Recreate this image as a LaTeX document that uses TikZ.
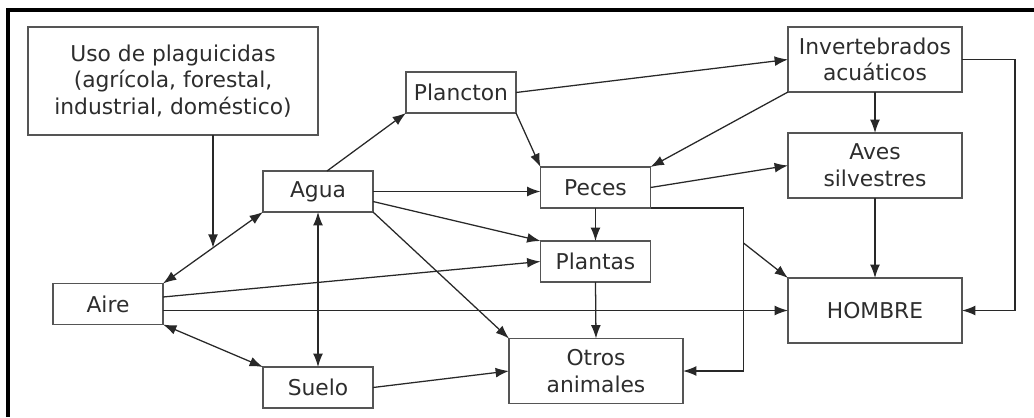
\documentclass[tikz,border=0pt]{standalone}
\usepackage{fontspec}
\setmainfont{DejaVu Sans}
\usepackage{xcolor}
\usepackage{tikz}
\usetikzlibrary{shapes,arrows,arrows.meta,positioning,calc,fit}
\definecolor{boxgray}{RGB}{85,85,85}
\definecolor{linegray}{RGB}{40,40,40}
\definecolor{textgray}{RGB}{45,45,45}

\begin{document}
\begin{tikzpicture}[x=0.025cm, y=-0.025cm]
    \tikzstyle{block} = [rectangle, draw=boxgray, line width=0.95pt, text=textgray, align=center, inner sep=0pt, outer sep=0pt, font=\fontsize{15.5}{19}\selectfont, minimum width=2.75cm, minimum height=1.025cm]
    \tikzstyle{bigblock} = [block, minimum width=4.35cm, minimum height=1.625cm]
    \tikzstyle{arrow} = [draw=linegray, line width=0.9pt, ->, >={Latex[length=9.5pt,width=7pt]}]
    \tikzstyle{twoway} = [arrow, <->]

    \useasboundingbox (0,0) rectangle (1034,417);
    \draw[line width=2.2pt] (8,417) -- (8,10) -- (1034,10);

    % Sources
    \node[block, minimum width=7.25cm, minimum height=2.7cm] (uso) at (173,81) {Uso de plaguicidas\\(agrícola, forestal,\\industrial, doméstico)};
    \node[block] (agua) at (318,191.5) {Agua};
    \node[block] (aire) at (108,304) {Aire};
    \node[block] (suelo) at (318,387.5) {Suelo};

    % Living things
    \node[block] (plancton) at (461,92.5) {Plancton};
    \node[block] (peces) at (595.5,187.5) {Peces};
    \node[block] (plantas) at (595.5,261.5) {Plantas};
    \node[bigblock] (invert) at (875,59.5) {Invertebrados\\acuáticos};
    \node[bigblock] (aves) at (875,165.5) {Aves\\silvestres};
    \node[bigblock] (hombre) at (875,310.5) {HOMBRE};
    \node[bigblock] (otros) at (596,371) {Otros\\animales};

    % Helper points
    \coordinate (mid) at ($(aire.north east)!0.5!(agua.south west)$);
    \coordinate (bend) at ($(peces.south east)+(93,0)$);
    \coordinate (fork) at ($(bend)+(0,35)$);

    % Between air, water and soil
    \draw[arrow] (uso.south -| mid) -- (mid);
    \draw[twoway] (aire.north east) -- (agua.south west);
    \draw[twoway] (aire.south east) -- (suelo.north west);
    \draw[twoway] (agua.south) -- (suelo.north);

    % From water
    \draw[arrow] ($(agua.north)+(9,0)$) -- (plancton.south west);
    \draw[arrow] (agua.east) -- (agua.east -| peces.west);
    \draw[arrow] ($(agua.east)+(0,10)$) -- (plantas.north west);
    \draw[arrow] (agua.south east) -- (otros.north west);

    % From air and soil
    \draw[arrow] ($(aire.east)+(0,-7)$) -- (plantas.west);
    \draw[arrow] (aire.east |- hombre.west) -- (hombre.west);
    \draw[arrow] (suelo.east) -- (otros.west);

    % Food chain
    \draw[arrow] (plancton.east) -- (invert.west);
    \draw[arrow] (plancton.south east) -- (peces.north west);
    \draw[arrow] (invert.south west) -- (peces.north east);
    \draw[arrow] (invert.south) -- (aves.north);
    \draw[arrow] (invert.east) -- ++(53,0) |- (hombre.east);
    \draw[arrow] (peces.east) -- (aves.west);
    \draw[arrow] (peces.south) -- (plantas.north);
    \draw[arrow] (peces.south east) -- (bend) |- (otros.east);
    \draw[arrow] (fork) -- (hombre.north west);
    \draw[arrow] (aves.south) -- (hombre.north);
    \draw[arrow] (plantas.south) -- (otros.north);
\end{tikzpicture}
\end{document}
